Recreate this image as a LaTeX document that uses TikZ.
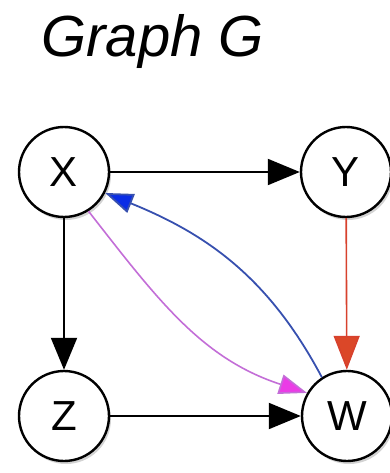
\documentclass[tikz,border=0pt]{standalone}
\usepackage{fontspec}
\setmainfont{Liberation Sans}
\usepackage{tikz}
\usetikzlibrary{arrows.meta,shadows}
\usepackage{xcolor}
\definecolor{edgeblue}{RGB}{55,80,175}
\definecolor{headblue}{RGB}{10,45,230}
\definecolor{edgepink}{RGB}{195,110,215}
\definecolor{headpink}{RGB}{235,60,230}
\definecolor{edgered}{RGB}{215,65,45}

\tikzset{
 vertex/.style={circle,draw,line width=2.4pt,fill=white,minimum size=90pt,inner sep=0pt,
  font=\fontsize{42}{42}\selectfont,
  drop shadow={shadow xshift=2pt,shadow yshift=-3pt,opacity=0.35}},
 edge/.style={line width=2pt,-{Triangle[length=32pt,width=26pt]}},
}

\begin{document}
\begin{tikzpicture}[x=1pt,y=-1pt]
\useasboundingbox (0,0) rectangle (390,473);
\node[anchor=base west,font=\fontsize{58}{58}\selectfont\itshape] (title) at (38,57){Graph G};
\node[vertex] (X) at (64,172){X};
\node[vertex] (Y) at (346,172){Y};
\node[vertex] (Z) at (64,416){Z};
\node[vertex] (W) at (347,416){W};
\draw[edge] (X)--(Y);
\draw[edge] (X)--(Z);
\draw[edge] (Z)--(W);
\draw[edge,edgered,line width=1.6pt,-{Triangle[length=34pt,width=26pt,fill=edgered!90!orange]}] (Y)--(W);
% curved ones
\draw[line width=1.8pt,edgeblue,-{Triangle[length=28pt,width=20pt,fill=headblue]}]
  (W.123) to[out=118,in=-22] (X.-27);
\draw[line width=1.6pt,edgepink,-{Triangle[length=28pt,width=20pt,fill=headpink]}]
  (X.-58) to[out=-52,in=162] (W.150);
\end{tikzpicture}
\end{document}
